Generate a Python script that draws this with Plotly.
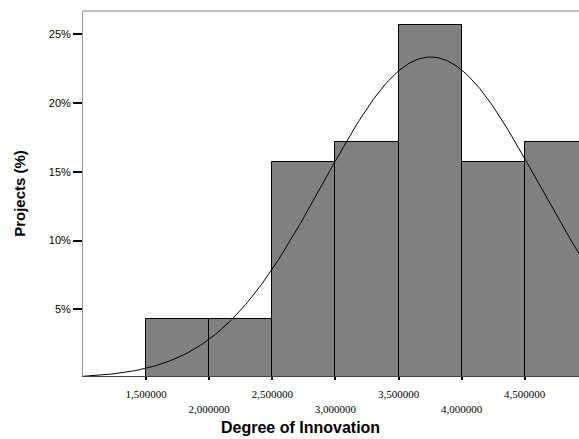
import numpy as np
import plotly.graph_objects as go

# Histogram data (percent of projects per bin)
bin_centers = [1.75, 2.25, 2.75, 3.25, 3.75, 4.25, 4.75]
bin_percent = [4.29, 4.29, 15.71, 17.14, 25.71, 15.71, 17.14]
bin_width = 0.5

# Fitted normal curve parameters
curve_mean = 3.755
curve_sd = 0.854

x_tick_vals = [1.5, 2.0, 2.5, 3.0, 3.5, 4.0, 4.5]
x_tick_text = ["1,500000", "<br>2,000000", "2,500000", "<br>3,000000",
               "3,500000", "<br>4,000000", "4,500000"]
y_tick_vals = [5, 10, 15, 20, 25]
y_tick_text = ["5%", "10%", "15%", "20%", "25%"]

cx = np.linspace(1.0, 4.93, 300)
cy = 100 * bin_width * np.exp(-0.5 * ((cx - curve_mean) / curve_sd) ** 2) / (curve_sd * np.sqrt(2 * np.pi))

fig = go.Figure()
fig.add_trace(go.Bar(x=bin_centers, y=bin_percent, width=bin_width,
                     marker=dict(color="#808080", line=dict(color="#000000", width=1)),
                     showlegend=False, hoverinfo="skip"))
fig.add_trace(go.Scatter(x=cx, y=cy, mode="lines",
                         line=dict(color="#000000", width=1),
                         showlegend=False, hoverinfo="skip"))

fig.update_layout(
    width=579, height=439,
    margin=dict(l=83, r=0, t=11, b=63),
    paper_bgcolor="white", plot_bgcolor="white",
    bargap=0,
    xaxis=dict(range=[1.0, 4.93], tickvals=x_tick_vals, ticktext=x_tick_text,
               ticks="outside", ticklen=3, tickwidth=2, tickcolor="#000000",
               ticklabelstandoff=5,
               showline=True, linecolor="#444444", linewidth=1,
               showgrid=False, zeroline=False,
               tickfont=dict(family="Liberation Serif, Times New Roman, serif", size=11, color="#000000")),
    yaxis=dict(range=[0.15, 26.7], tickvals=y_tick_vals, ticktext=y_tick_text,
               ticks="outside", ticklen=9, tickwidth=2, tickcolor="#000000",
               showline=True, linecolor="#999999", linewidth=1,
               showgrid=False, zeroline=False,
               tickfont=dict(family="Liberation Sans, Arial, sans-serif", size=11, color="#000000"),
               title=dict(text="Projects (%)", standoff=19,
                          font=dict(family="Liberation Sans, Arial, sans-serif", size=15, color="#000000",
                                    weight="bold"))),
    shapes=[dict(type="line", xref="paper", yref="paper", x0=0, x1=1, y0=1, y1=1,
                 line=dict(color="#808080", width=1))],
    annotations=[dict(text="<b>Degree of Innovation</b>", xref="paper", yref="paper",
                      x=(300 - 83) / (579 - 83), y=0, yshift=-62, yanchor="bottom",
                      showarrow=False,
                      font=dict(family="Liberation Sans, Arial, sans-serif", size=16, color="#000000"))],
)

fig.write_html("out.html", config={"displayModeBar": False},
               post_script="document.body.style.margin='0';document.body.style.overflow='hidden';")
